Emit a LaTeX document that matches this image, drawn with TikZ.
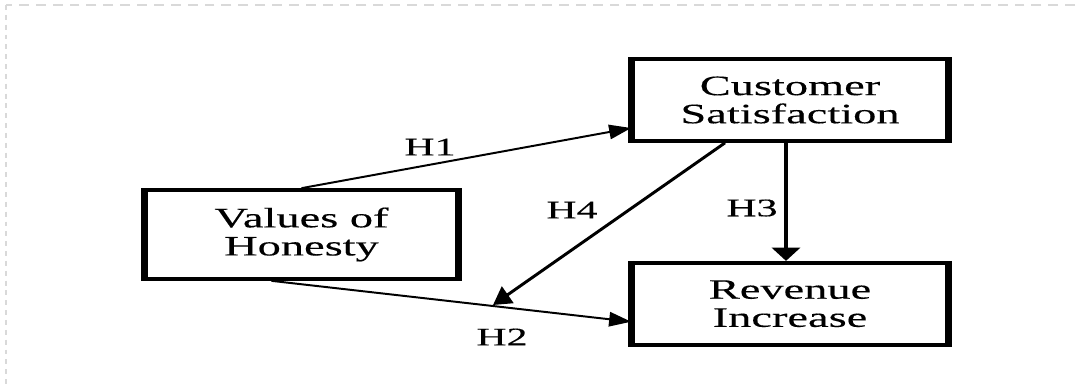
\documentclass[tikz,border=0pt]{standalone}
\usepackage{fontspec}
\setmainfont{Liberation Serif}[FakeStretch=1.65, FakeBold=0.3]
\usepackage{tikz}
\usetikzlibrary{positioning,arrows.meta}

\tikzset{
  construct/.style={draw, line width=2.6pt, inner sep=0pt, align=center,
    minimum width=7.85cm, minimum height=2.05cm,
    font=\fontsize{20}{20}\selectfont},
  hyp/.style={font=\fontsize{18}{20}\selectfont, inner sep=1pt},
  link/.style={line width=1.4pt},
  frame/.style={gray!30, line width=1.4pt},
}

\begin{document}
\begin{tikzpicture}[x=0.025cm, y=-0.025cm]
  \useasboundingbox (0,0) rectangle (1083,388);
  % page frame, only top and left edge show
  \draw[frame, dash pattern=on 7pt off 5pt] (1075,5) -- (6,5);
  \draw[frame, dash pattern=on 3.5pt off 3.5pt] (6,5) -- (6,385);
  % the three constructs
  \node[construct, minimum width=7.775cm, minimum height=2.225cm] (hon) at (301.5,234.5) {Values of\\Honesty};
  \node[construct] (sat) at (790,100) {Customer\\Satisfaction};
  \node[construct, below=2.95cm of sat] (rev) {Revenue\\Increase};
  % heavier vertical edges
  \foreach \n in {hon,sat,rev}
    \draw[line width=4.6pt] (\n.north west) -- (\n.south west) (\n.north east) -- (\n.south east);
  % hypotheses
  \coordinate (h4tip) at (493,305);
  \draw[link, -{Triangle[length=0.55cm,width=0.36cm]}] (hon.north) -- ([yshift=-0.7cm]sat.west);
  \draw[link, -{Triangle[length=0.55cm,width=0.36cm]}] ([xshift=-0.75cm]hon.south) -- ([yshift=-0.45cm]rev.west);
  \draw[link, line width=2.1pt, -{Triangle[length=0.45cm,width=0.5cm]}] ([xshift=-1.625cm]sat.south) -- (h4tip);
  \draw[link, line width=3.4pt, -{Triangle[length=0.33cm,width=0.7cm]}] ([xshift=-0.1cm]sat.south) -- ([xshift=-0.1cm]rev.north);
  \node[hyp] (lh1) at (430,147) {H1};
  \node[hyp] (lh2) at (502,337) {H2};
  \node[hyp] (lh3) at (752,208) {H3};
  \node[hyp] (lh4) at (572,210) {H4};
\end{tikzpicture}
\end{document}
